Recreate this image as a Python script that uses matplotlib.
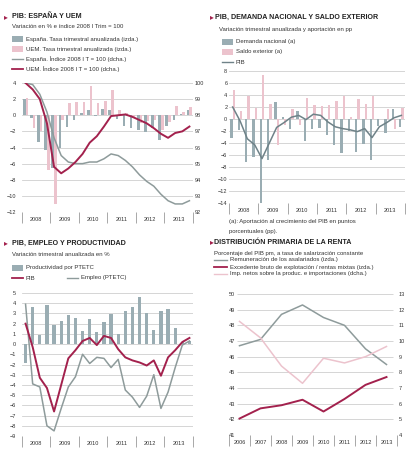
import numpy as np
import matplotlib.pyplot as plt
from matplotlib.patches import Rectangle
from matplotlib.lines import Line2D

plt.rcParams['font.family'] = ['Liberation Sans', 'DejaVu Sans']

# ---- datos ----
anos_trim = ['2008', '2009', '2010', '2011', '2012', '2013']
anos_renta = ['2006', '2007', '2008', '2009', '2010', '2011', '2012', '2013']

# tasa trimestral anualizada del PIB de España (se usa en los tres paneles)
pib_esp = [2.0, -0.3, -3.3, -4.3, -6.6, -4.0, -1.4, -0.6, 0.3, 0.6, -0.1, 0.8,
           0.6, -0.5, -1.3, -1.6, -1.8, -2.1, -1.6, -3.1, -1.3, -0.6, 0.2, 0.6]
pib_uem = [2.2, -1.6, -2.0, -6.8, -11.0, -0.6, 1.5, 1.7, 1.7, 3.6, 1.5, 1.8,
           3.1, 0.6, 0.3, -0.4, -0.9, -0.7, -0.6, -1.8, -0.8, 1.1, 0.4, 1.0]
indice_esp = [100.0, 99.9, 99.3, 98.2, 96.6, 95.5, 95.1, 95.0, 95.0, 95.1, 95.1, 95.3,
              95.6, 95.5, 95.2, 94.8, 94.3, 93.9, 93.6, 93.1, 92.7, 92.5, 92.5, 92.7]
indice_uem = [100.0, 99.6, 99.0, 97.5, 94.8, 94.4, 94.7, 95.1, 95.6, 96.3, 96.7, 97.3,
              97.95, 98.0, 98.05, 97.9, 97.7, 97.5, 97.2, 96.85, 96.6, 96.9, 97.0, 97.3]

demanda = [-3.2, -1.8, -7.2, -6.3, -14.0, -6.8, 2.8, 0.4, -1.6, 1.4, -3.7, -1.6,
           -1.5, -2.6, -4.3, -5.6, -2.0, -5.5, -4.1, -6.9, -1.2, -2.4, 1.7, -1.3]
saldo = [4.8, 1.3, 3.8, 1.9, 7.3, 2.5, -4.3, -1.0, 1.7, -1.0, 3.5, 2.3,
         2.1, 2.3, 3.0, 3.9, 0.4, 3.3, 2.5, 3.8, 0.0, 1.7, -1.6, 1.8]

productividad = [-1.9, 3.6, 0.9, 3.8, 1.9, 2.3, 2.8, 2.6, 1.3, 2.5, 1.2, 2.2,
                 2.9, 1.0, 3.2, 3.6, 4.6, 3.0, 1.4, 3.2, 3.4, 1.6, 0.2, 0.3]
empleo = [3.9, -3.9, -4.2, -8.0, -8.5, -6.3, -4.2, -3.2, -1.0, -1.9, -1.3, -1.4,
          -2.3, -1.5, -4.5, -5.2, -6.2, -5.1, -3.0, -6.3, -4.7, -2.3, -0.1, 0.3]

remuneracion = [46.7, 47.1, 48.7, 49.3, 48.5, 48.0, 46.5, 45.5]
excedente = [42.05, 42.7, 42.9, 43.25, 42.5, 43.3, 44.2, 44.7]
impuestos = [11.25, 10.2, 8.4, 7.3, 8.9, 8.6, 9.0, 9.65]

AZUL = '#9aadb3'
AZUL_OSC = '#6f8288'
ROSA = '#ecc3cd'
ROJO = '#a3214d'
GRIS = '#8e9b9b'
REJILLA = '#cfcfcf'
TEXTO = '#333333'

W, H = 414, 451
fig = plt.figure(figsize=(W / 100, H / 100), dpi=100)


def fx(x):
    return x / W


def fy(y):
    return 1 - y / H


def caja_ax(x0, y0, x1, y1):
    return fig.add_axes([fx(x0), fy(y1), (x1 - x0) / W, (y1 - y0) / H])


def txt(x, y, s, size=4.3, **kw):
    fig.text(fx(x), fy(y), s, fontsize=size, va='center', ha='left', color=TEXTO, **kw)


def titulo(xa, x, y, s):
    fig.text(fx(xa), fy(y), '▸', fontsize=5.5, color=ROJO, va='center', family='DejaVu Sans')
    fig.text(fx(x), fy(y), s, fontsize=5.1, weight='bold', color='#222222', va='center')


def ley_caja(x, y, color, s):
    fig.add_artist(Rectangle((fx(x), fy(y + 3)), 11 / W, 6 / H,
                             transform=fig.transFigure, color=color, lw=0))
    txt(x + 14, y, s)


def ley_linea(x, y, color, lw, s, largo=11):
    fig.add_artist(Line2D([fx(x), fx(x + largo)], [fy(y), fy(y)],
                          transform=fig.transFigure, color=color, lw=lw))
    txt(x + largo + 3, y, s)


def estilo(ax, yticks, pad=3.5):
    for s in ax.spines.values():
        s.set_visible(False)
    ax.set_yticks(yticks)
    ax.tick_params(axis='y', length=0, pad=pad, labelsize=4, labelcolor=TEXTO)
    ax.set_axisbelow(True)


def eje_anos(ax, etiquetas, per):
    n = len(etiquetas) * per
    ax.set_xlim(-0.5, n - 0.5)
    ax.set_xticks(np.arange(len(etiquetas) + 1) * per - 0.5)
    ax.set_xticklabels([])
    ax.tick_params(axis='x', which='major', length=8, width=0.6, color='#9a9a9a')
    ax.set_xticks(np.arange(len(etiquetas)) * per + per / 2 - 0.5, minor=True)
    ax.set_xticklabels(etiquetas, minor=True, fontsize=4)
    ax.tick_params(axis='x', which='minor', length=0, pad=3.5, labelcolor=TEXTO)


x = np.arange(24)

# ---- panel 1: PIB España y UEM ----
titulo(4, 12, 17, 'PIB: ESPAÑA Y UEM')
txt(12, 27, 'Variación en % e índice 2008 I Trim = 100')
ley_caja(12, 39, AZUL, 'España. Tasa trimestral anualizada (izda.)')
ley_caja(12, 49, ROSA, 'UEM. Tasa trimestral anualizada (izda.)')
ley_linea(12, 59, GRIS, 1.0, 'España. Índice 2008 I T = 100 (dcha.)')
ley_linea(12, 69, ROJO, 1.3, 'UEM. Índice 2008 I T = 100 (dcha.)')

ax1 = caja_ax(22, 83, 193, 212)
ax1.bar(x - 0.18, pib_esp, width=0.36, color=AZUL)
ax1.bar(x + 0.18, pib_uem, width=0.36, color=ROSA)
ax1.set_ylim(-12, 4)
estilo(ax1, range(-12, 5, 2), pad=4.3)
ax1.grid(axis='y', color=REJILLA, lw=0.6)
eje_anos(ax1, anos_trim, 4)
ax1b = ax1.twinx()
ax1b.plot(x, indice_esp, color=GRIS, lw=1.1)
ax1b.plot(x, indice_uem, color=ROJO, lw=1.4)
ax1b.set_ylim(92, 100)
estilo(ax1b, range(92, 101), pad=1.5)

# ---- panel 2: PIB, demanda nacional y saldo exterior ----
titulo(210, 215, 17, 'PIB, DEMANDA NACIONAL Y SALDO EXTERIOR')
txt(219, 29, 'Variación trimestral anualizada y aportación en pp')
ley_caja(222, 42, AZUL, 'Demanda nacional (a)')
ley_caja(222, 52, ROSA, 'Saldo exterior (a)')
ley_linea(222, 62, AZUL_OSC, 1.0, 'PIB')

ax2 = caja_ax(229, 71, 405, 203)
ax2.bar(x - 0.17, demanda, width=0.34, color=AZUL)
ax2.bar(x + 0.17, saldo, width=0.34, color=ROSA)
ax2.plot(x, pib_esp, color=AZUL_OSC, lw=1.1)
ax2.set_ylim(-14, 8)
estilo(ax2, range(-14, 9, 2), pad=1.2)
ax2.grid(axis='y', color=REJILLA, lw=0.6)
eje_anos(ax2, anos_trim, 4)
txt(229, 222, '(a): Aportación al crecimiento del PIB en puntos')
txt(229, 232, 'porcentuales (pp).')

# ---- panel 3: PIB, empleo y productividad ----
titulo(4, 12, 243, 'PIB, EMPLEO Y PRODUCTIVIDAD')
txt(12, 254, 'Variación trimestral anualizada en %')
ley_caja(12, 268, AZUL, 'Productividad por PTETC')
ley_linea(12, 278, ROJO, 1.3, 'PIB')
ley_linea(67, 278, GRIS, 1.0, 'Empleo (PTETC)')

ax3 = caja_ax(22, 293, 193, 436)
ax3.bar(x, productividad, width=0.45, color=AZUL)
ax3.plot(x, empleo, color=GRIS, lw=1.1)
ax3.plot(x, pib_esp, color=ROJO, lw=1.4)
ax3.set_ylim(-9, 5)
estilo(ax3, range(-9, 6), pad=4.3)
ax3.grid(axis='y', color=REJILLA, lw=0.6)
eje_anos(ax3, anos_trim, 4)

# ---- panel 4: distribución primaria de la renta ----
titulo(210, 214, 242, 'DISTRIBUCIÓN PRIMARIA DE LA RENTA')
txt(214, 253, 'Porcentaje del PIB pm, a tasa de salarización constante')
ley_linea(214, 260, GRIS, 1.0, 'Remuneración de los asalariados (izda.)', largo=13)
ley_linea(214, 267, ROJO, 1.3, 'Excedente bruto de explotación / rentas mixtas (izda.)', largo=13)
ley_linea(214, 274, ROSA, 1.0, 'Imp. netos sobre la produc. e importaciones (dcha.)', largo=13)

xa = np.arange(len(anos_renta))
ax4 = caja_ax(229, 294, 397, 435)
ax4.set_ylim(41, 50)
estilo(ax4, range(41, 51), pad=-4.5)
eje_anos(ax4, anos_renta, 1)
ax4.hlines(range(41, 51), -0.1, 7.3, color=REJILLA, lw=0.6)
ax4.plot(xa, remuneracion, color=GRIS, lw=1.1)
ax4.plot(xa, excedente, color=ROJO, lw=1.4)
ax4b = ax4.twinx()
ax4b.plot(xa, impuestos, color=ROSA, lw=1.1)
ax4b.set_ylim(4, 13)
estilo(ax4b, range(4, 14), pad=1.0)

fig.savefig('out.png', dpi=100, facecolor='white')
